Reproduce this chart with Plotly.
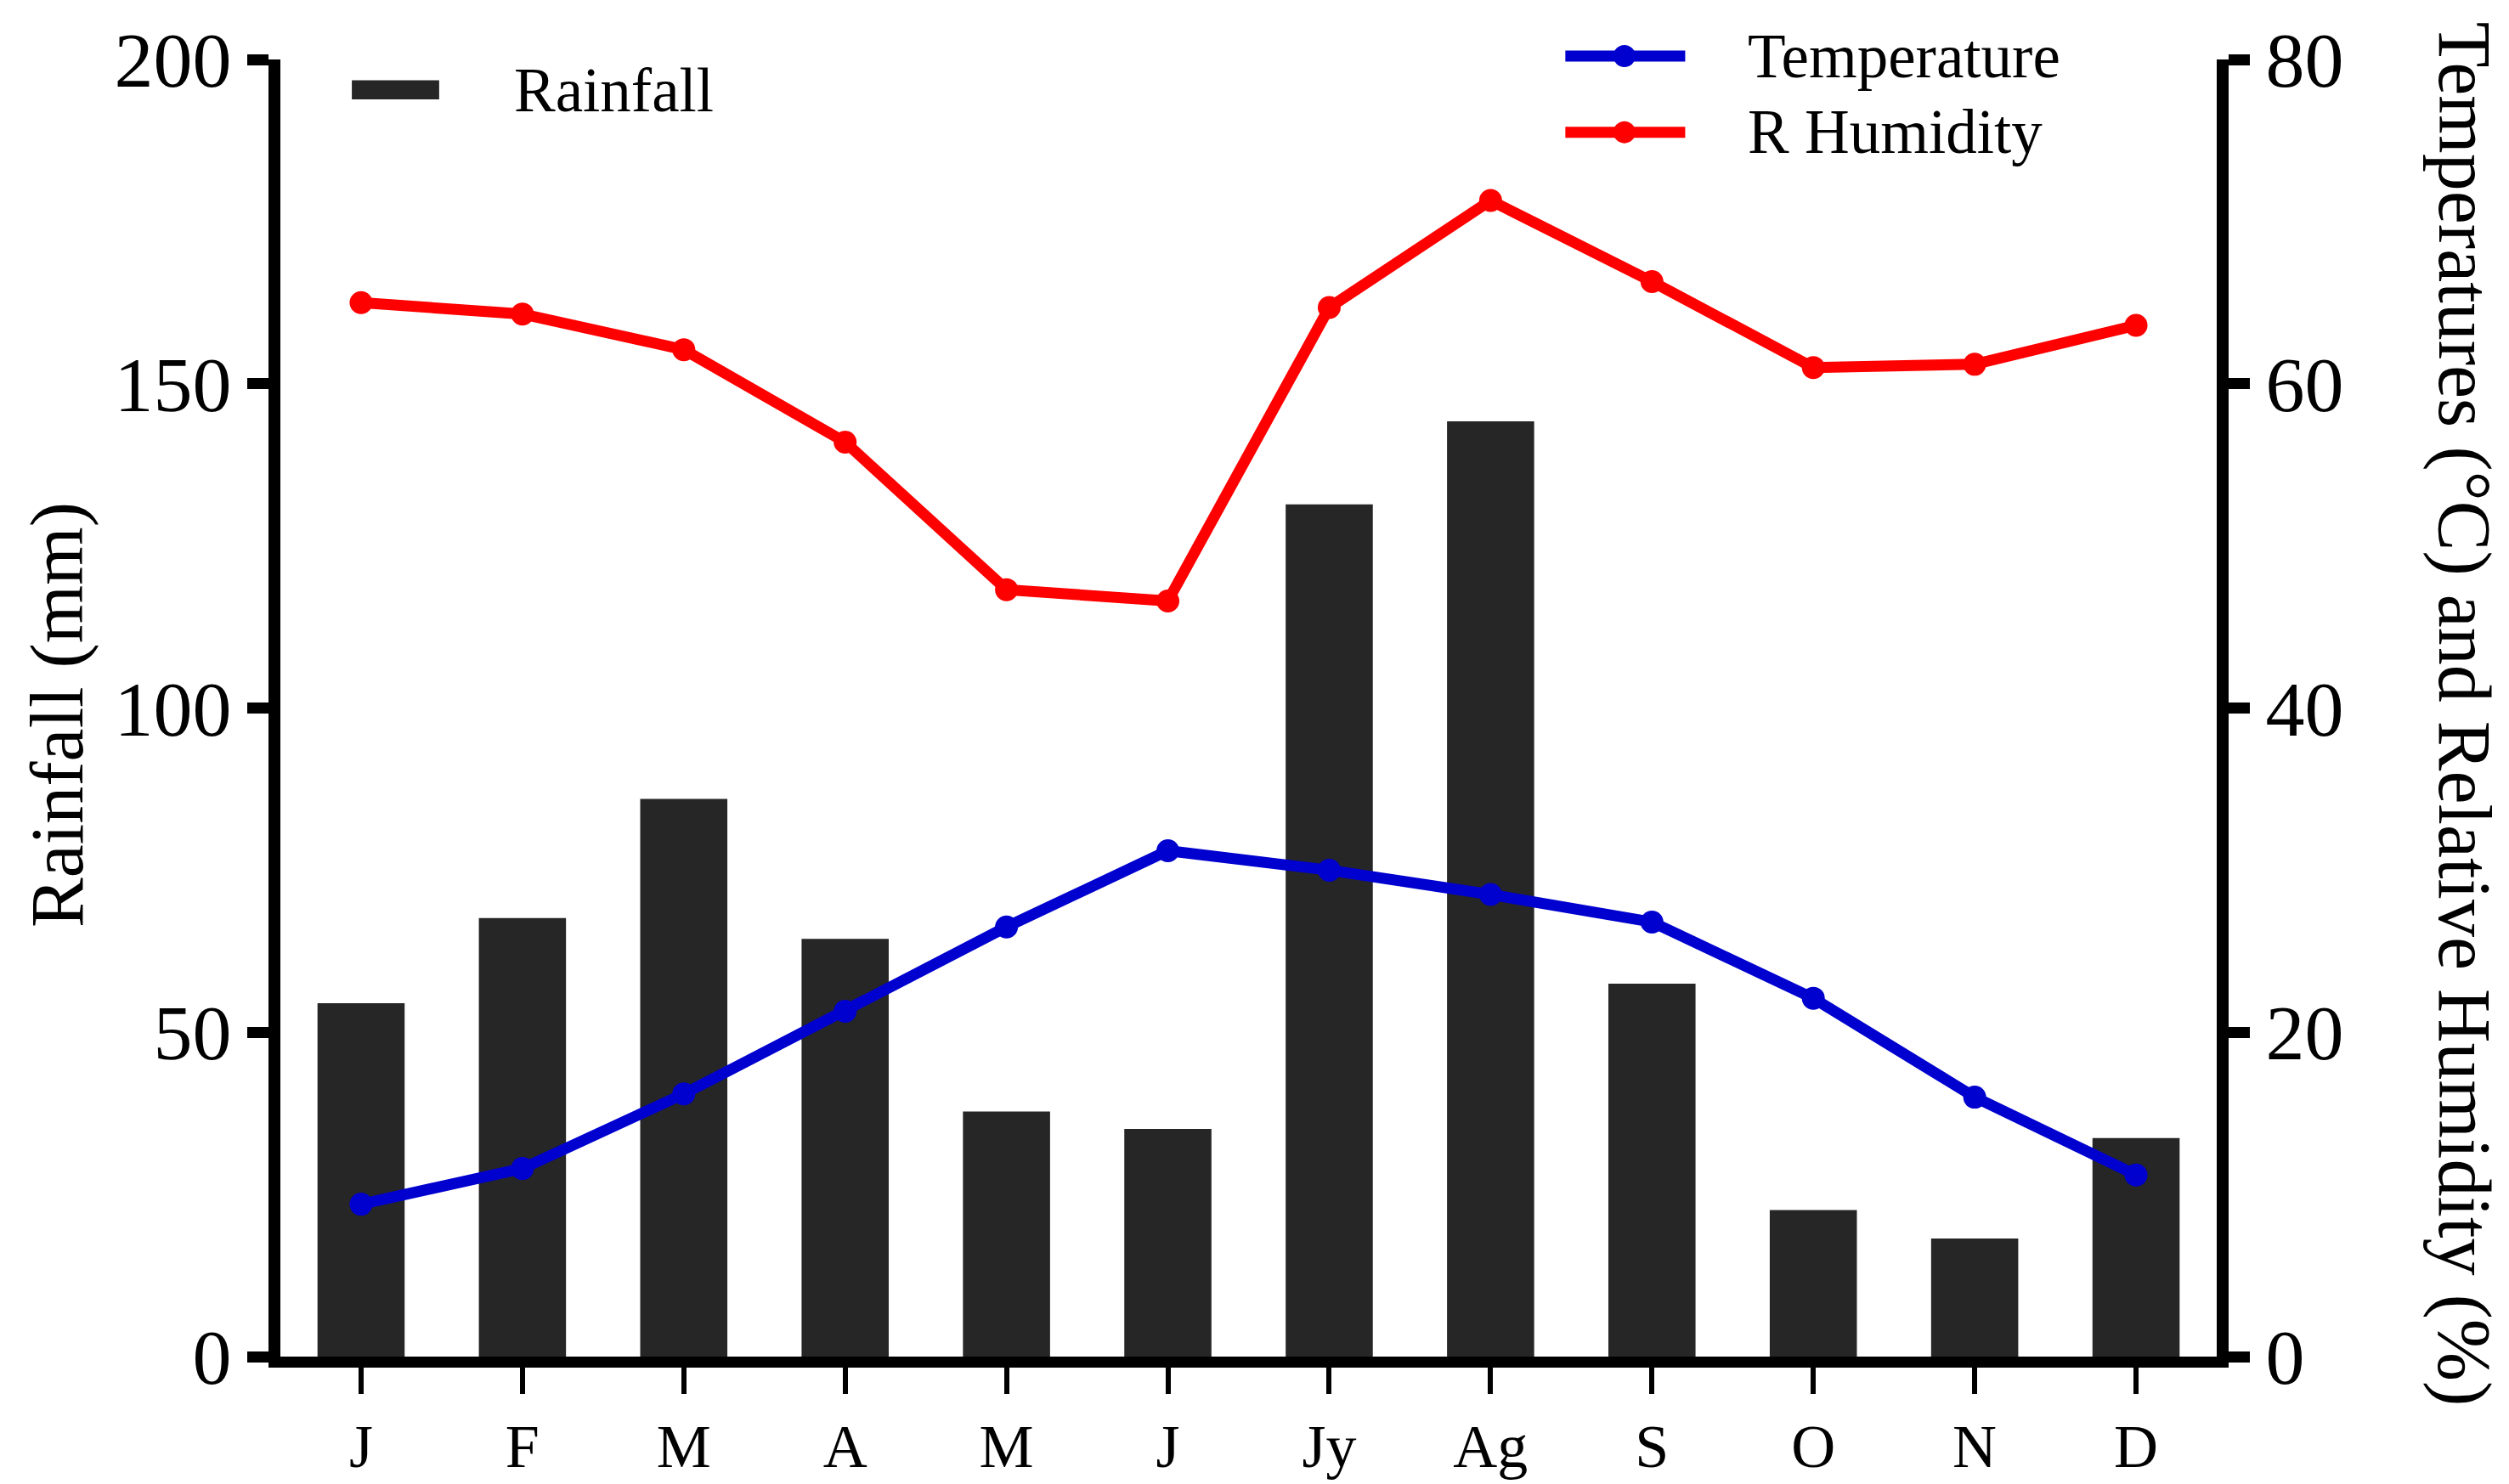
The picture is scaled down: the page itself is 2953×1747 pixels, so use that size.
import plotly.graph_objects as go

# monthly climate data
months = ["J", "F", "M", "A", "M", "J", "Jy", "Ag", "S", "O", "N", "D"]
rainfall = [54.5, 67.6, 86.0, 64.4, 37.8, 35.1, 131.4, 144.2, 57.5, 22.6, 18.2, 33.7]
temperature = [9.4, 11.6, 16.2, 21.3, 26.5, 31.2, 30.0, 28.5, 26.8, 22.1, 16.0, 11.2]
humidity = [65.0, 64.3, 62.1, 56.4, 47.3, 46.6, 64.7, 71.3, 66.3, 61.0, 61.2, 63.6]

xpos = list(range(len(months)))
FONT = "Liberation Serif"
BAR = "#262626"
BLUE = "#0000cf"
RED = "#ff0000"
LW = 13
MS = 27

data = [
    go.Bar(x=xpos, y=rainfall, name="Rainfall", marker=dict(color=BAR, line=dict(width=0)),
           showlegend=False),
    go.Scatter(x=xpos, y=temperature, name="Temperature", yaxis="y2", mode="lines+markers",
               line=dict(color=BLUE, width=LW), marker=dict(color=BLUE, size=MS),
               showlegend=False),
    go.Scatter(x=xpos, y=humidity, name="R Humidity", yaxis="y2", mode="lines+markers",
               line=dict(color=RED, width=LW), marker=dict(color=RED, size=MS),
               showlegend=False),
]

# hand-made legend glyphs (paper coords) so they match the original proportions
shapes = [
    dict(type="rect", xref="paper", yref="paper", x0=0.0369, x1=0.0820, y0=0.9693, y1=0.9840,
         fillcolor=BAR, line=dict(width=0)),
    dict(type="line", xref="paper", yref="paper", x0=0.6636, x1=0.7255, y0=1.0026, y1=1.0026,
         line=dict(color=BLUE, width=LW)),
    dict(type="line", xref="paper", yref="paper", x0=0.6636, x1=0.7255, y0=0.9439, y1=0.9439,
         line=dict(color=RED, width=LW)),
    dict(type="circle", xref="paper", yref="paper", xsizemode="pixel", ysizemode="pixel",
         xanchor=0.6941, yanchor=1.0026, x0=-13, x1=13, y0=-13, y1=13,
         fillcolor=BLUE, line=dict(width=0)),
    dict(type="circle", xref="paper", yref="paper", xsizemode="pixel", ysizemode="pixel",
         xanchor=0.6941, yanchor=0.9439, x0=-13, x1=13, y0=-13, y1=13,
         fillcolor=RED, line=dict(width=0)),
]

annotations = [
    dict(text="Rainfall", xref="paper", yref="paper", x=0.120, y=0.9758, xanchor="left",
         yanchor="middle", showarrow=False, font=dict(family=FONT, size=73, color="black")),
    dict(text="Temperature", xref="paper", yref="paper", x=0.7570, y=1.0026, xanchor="left",
         yanchor="middle", showarrow=False, font=dict(family=FONT, size=73, color="black")),
    dict(text="R Humidity", xref="paper", yref="paper", x=0.7570, y=0.9439, xanchor="left",
         yanchor="middle", showarrow=False, font=dict(family=FONT, size=73, color="black")),
    dict(text="Rainfall (mm)", xref="paper", yref="paper", x=-0.1155, y=0.495, textangle=-90,
         xanchor="center", yanchor="middle", showarrow=False,
         font=dict(family=FONT, size=88, color="black")),
    dict(text="Temperatures (°C) and Relative Humidity (%)", xref="paper", yref="paper",
         x=1.128, y=0.4955, textangle=90, xanchor="center", yanchor="middle", showarrow=False,
         font=dict(family=FONT, size=88, color="black")),
]

layout = go.Layout(
    width=2953, height=1747,
    margin=dict(l=322, r=352, t=60, b=121),
    paper_bgcolor="white", plot_bgcolor="white",
    font=dict(family=FONT, color="black"),
    bargap=0.46,
    xaxis=dict(range=[-0.5, 11.5], tickvals=xpos, ticktext=months, showgrid=False,
               zeroline=False, showline=True, linecolor="black", linewidth=13,
               ticks="outside", ticklen=31, tickwidth=6, tickcolor="black",
               tickfont=dict(family=FONT, size=72), ticklabelstandoff=0),
    yaxis=dict(range=[0, 200], tickvals=[0, 50, 100, 150, 200], showgrid=False,
               zeroline=False, showline=True, linecolor="black", linewidth=14,
               ticks="outside", ticklen=25, tickwidth=13, tickcolor="black",
               tickfont=dict(family=FONT, size=92)),
    yaxis2=dict(range=[0, 80], tickvals=[0, 20, 40, 60, 80], overlaying="y", side="right",
                showgrid=False, zeroline=False, showline=True, linecolor="black", linewidth=14,
                ticks="outside", ticklen=25, tickwidth=13, tickcolor="black",
                tickfont=dict(family=FONT, size=92)),
    shapes=shapes,
    annotations=annotations,
)

fig = go.Figure(data=data, layout=layout)
fig.write_html("out.html")
